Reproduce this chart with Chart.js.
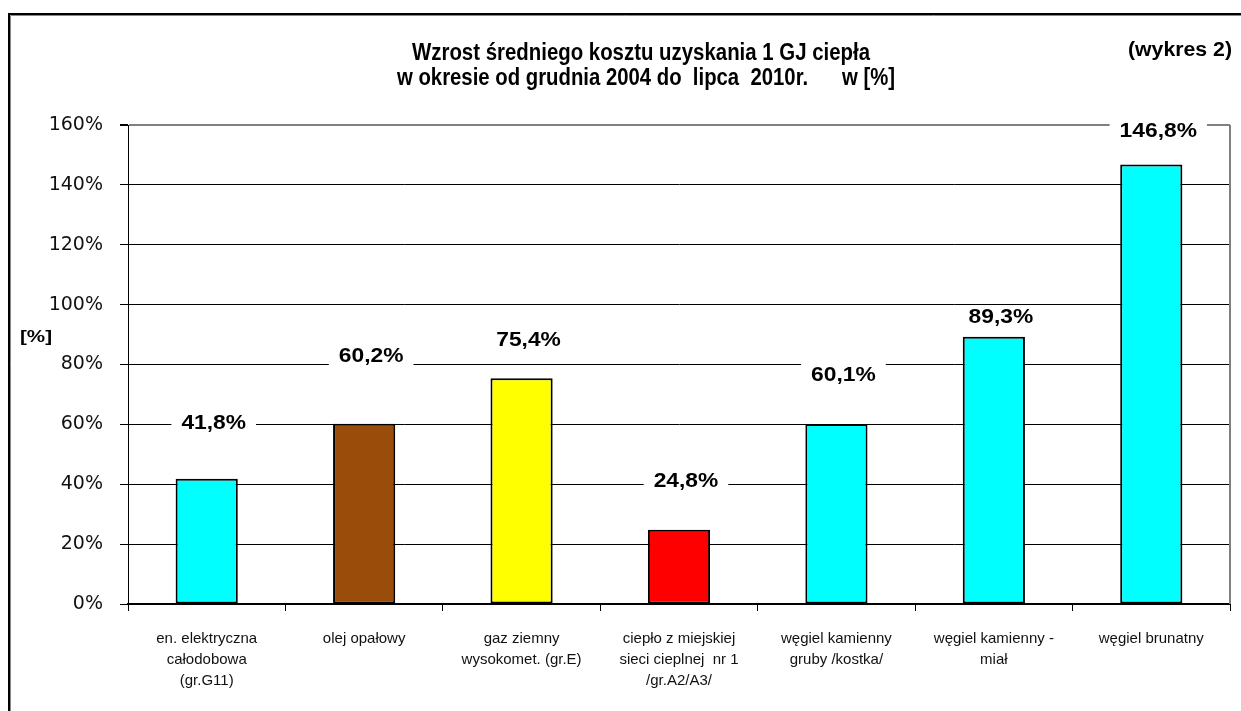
<!DOCTYPE html>
<html>
<head>
<meta charset="utf-8">
<script src="https://cdn.jsdelivr.net/npm/chart.js@4.4.1/dist/chart.umd.min.js"></script>
<style>
  html, body { margin: 0; padding: 0; background: #fff; }
  #wrap { width: 1241px; height: 711px; }
</style>
</head>
<body>
<div id="wrap"><canvas id="chart" width="1241" height="711"></canvas></div>
<script>
var categories = [
    ['en. elektryczna', 'całodobowa', '(gr.G11)'],
    ['olej opałowy'],
    ['gaz ziemny', 'wysokomet. (gr.E)'],
    ['ciepło z miejskiej', 'sieci cieplnej  nr 1', '/gr.A2/A3/'],
    ['węgiel kamienny', 'gruby /kostka/'],
    ['węgiel kamienny -', 'miał'],
    ['węgiel brunatny']
];
var values = [41.8, 60.2, 75.4, 24.8, 60.1, 89.3, 146.8];
var valueLabels = ['41,8%', '60,2%', '75,4%', '24,8%', '60,1%', '89,3%', '146,8%'];
var barColors = ['#00FFFF', '#9A4C0B', '#FFFF00', '#FF0000', '#00FFFF', '#00FFFF', '#00FFFF'];
var yTicks = [0, 20, 40, 60, 80, 100, 120, 140, 160];

// how far (px) each value label sits above its bar
var labelLift = [55, 67, 38, 48, 49, 19, 33];

// draws text with a horizontal stretch factor
function stretchText(ctx, text, x, y, font, sx, align) {
    ctx.save();
    ctx.font = font;
    ctx.textBaseline = 'middle';
    ctx.textAlign = align || 'center';
    ctx.translate(x, y);
    ctx.scale(sx, 1);
    ctx.fillText(text, 0, 0);
    ctx.restore();
}

function fitText(ctx, text, cx, y, font, width) {
    ctx.save();
    ctx.font = font;
    var w = ctx.measureText(text).width;
    ctx.restore();
    stretchText(ctx, text, cx, y, font, width / w, 'center');
}

var decor = {
    id: 'decor',
    afterDraw: function (chart) {
        var ctx = chart.ctx;
        var area = chart.chartArea;
        ctx.save();
        // outer frame
        ctx.strokeStyle = '#000';
        ctx.lineWidth = 2;
        ctx.beginPath();
        ctx.moveTo(9, 711);
        ctx.lineTo(9, 14);
        ctx.lineTo(1241, 14);
        ctx.stroke();
        ctx.strokeStyle = '#888';
        ctx.lineWidth = 1;
        ctx.beginPath();
        ctx.moveTo(10.5, 711);
        ctx.lineTo(10.5, 15.5);
        ctx.lineTo(1241, 15.5);
        ctx.stroke();
        // plot area right border
        ctx.strokeStyle = '#808080';
        ctx.lineWidth = 2;
        ctx.beginPath();
        ctx.moveTo(area.right, area.top);
        ctx.lineTo(area.right, area.bottom);
        ctx.stroke();

        ctx.fillStyle = '#000';
        fitText(ctx, 'Wzrost średniego kosztu uzyskania 1 GJ ciepła', 641, 54, 'bold 23px "Liberation Sans", Arial', 458);
        fitText(ctx, 'w okresie od grudnia 2004 do  lipca  2010r.      w [%]', 646, 79, 'bold 23px "Liberation Sans", Arial', 498);
        fitText(ctx, '(wykres 2)', 1180, 50, 'bold 20px "Liberation Sans", Arial', 104);
        fitText(ctx, '[%]', 36, 338, 'bold 16px "Liberation Sans", Arial', 32);
        ctx.restore();
    }
};

var barLabels = {
    id: 'barLabels',
    afterDatasetsDraw: function (chart) {
        var ctx = chart.ctx;
        var meta = chart.getDatasetMeta(0);
        var font = 'bold 20px "Liberation Sans", Arial';
        ctx.save();
        meta.data.forEach(function (bar, i) {
            var x = bar.x + 7;
            var y = bar.y - labelLift[i];
            ctx.font = font;
            var w = ctx.measureText(valueLabels[i]).width * 1.14;
            ctx.fillStyle = '#fff';
            ctx.fillRect(x - w / 2 - 10, y - 12, w + 20, 24);
            ctx.fillStyle = '#000';
            stretchText(ctx, valueLabels[i], x, y, font, 1.14, 'center');
        });
        ctx.restore();
    }
};

new Chart(document.getElementById('chart'), {
    type: 'bar',
    data: {
        labels: categories,
        datasets: [{
            data: values,
            backgroundColor: barColors,
            borderColor: '#000',
            borderWidth: 2,
            borderSkipped: false,
            barPercentage: 0.395,
            categoryPercentage: 1
        }]
    },
    options: {
        responsive: false,
        animation: false,
        layout: {
            padding: { top: 125, right: 11, bottom: 0, left: 0 }
        },
        scales: {
            x: {
                afterFit: function (scale) { scale.height = 107; },
                grid: {
                    offset: true,
                    drawOnChartArea: false,
                    tickLength: 7,
                    color: '#000',
                    lineWidth: 1
                },
                border: { display: true, color: '#000', width: 2 },
                ticks: {
                    maxRotation: 0,
                    autoSkip: false,
                    padding: 17,
                    color: '#111',
                    font: { family: '"Liberation Sans", Arial', size: 15, lineHeight: 1.4 }
                }
            },
            y: {
                min: 0,
                max: 160,
                afterFit: function (scale) { scale.width = 128; },
                afterBuildTicks: function (scale) {
                    scale.ticks = yTicks.map(function (v) { return { value: v }; });
                },
                grid: {
                    color: function (c) { return c.tick && c.tick.value === 160 ? '#808080' : '#000'; },
                    lineWidth: function (c) { return c.tick && c.tick.value === 160 ? 2 : 1; },
                    tickColor: '#000',
                    tickLength: 8
                },
                border: { display: true, color: '#000', width: 1 },
                ticks: {
                    padding: 17,
                    color: '#111',
                    font: { family: '"DejaVu Sans"', size: 19 },
                    callback: function (v) { return v + '%'; }
                }
            }
        },
        plugins: {
            legend: { display: false },
            tooltip: { enabled: false }
        }
    },
    plugins: [barLabels, decor]
});
</script>
</body>
</html>
